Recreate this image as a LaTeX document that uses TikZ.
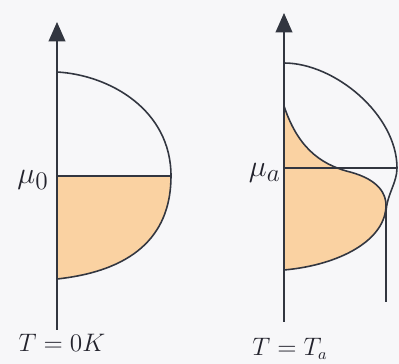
\documentclass[tikz,border=0pt]{standalone}
\usepackage{tikz}
\usetikzlibrary{arrows.meta}
\definecolor{bggray}{RGB}{247,247,249}
\definecolor{linegray}{RGB}{50,54,64}
\definecolor{fillorange}{RGB}{250,210,162}
\definecolor{textdark}{RGB}{35,35,45}
\tikzset{
  axisline/.style={
    -{Triangle[length=11pt,width=9.5pt]},
    draw=linegray, line width=0.85pt
  },
  curveline/.style={
    draw=linegray, line width=0.9pt
  },
  dosfill/.style={
    fill=fillorange
  },
  mulabel/.style={
    font=\fontsize{19}{21}\selectfont\color{textdark}, inner sep=0pt
  },
  templabel/.style={
    font=\fontsize{13.5}{15}\selectfont\color{textdark}, inner sep=0pt
  },
}
\begin{document}
\begin{tikzpicture}[x=0.02cm, y=-0.02cm]

  \useasboundingbox[fill=bggray] (0,0) rectangle (399,364);

  %% T = 0 K
  \coordinate (lbot) at (57,330);
  \coordinate (ltop) at (57,22);
  \coordinate (lupper) at (57,72);
  \coordinate (lmu) at (57,176);
  \coordinate (lmax) at (171,176);
  \coordinate (llower) at (57,279);

  \fill[dosfill] (lmu) -- (lmax) .. controls (171,230) and (140,270) .. (llower) -- cycle;
  \draw[curveline] (lupper) .. controls (110,75) and (171,110) .. (lmax)
    .. controls (171,230) and (140,270) .. (llower);
  \draw[curveline] (lmu) -- (lmax);
  \draw[axisline] (lbot) -- (ltop);

  \node[mulabel, anchor=east] (mu0) at (49,180) {$\mu_0$};
  \node[templabel, anchor=base] (t0) at (62,352) {$T = 0K$};

  %% T = T_a
  \coordinate (rbot) at (284,322);
  \coordinate (rtop) at (284,13);
  \coordinate (rupper) at (284,63);
  \coordinate (rmu) at (284,168);
  \coordinate (rmax) at (397,168);
  \coordinate (rend) at (386,302);
  \coordinate (fstart) at (284,106);
  \coordinate (fend) at (284,270);

  \fill[dosfill] (fstart) .. controls (297,145) and (318,164) .. (350,172)
    .. controls (380,180) and (386,195) .. (386,205)
    .. controls (386,240) and (340,265) .. (fend) -- cycle;
  \draw[curveline] (fstart) .. controls (297,145) and (318,164) .. (350,172)
    .. controls (380,180) and (386,195) .. (386,205)
    .. controls (386,240) and (340,265) .. (fend);
  \draw[curveline] (rupper) .. controls (335,63) and (397,115) .. (rmax)
    .. controls (397,183) and (387,194) .. (386,212) -- (rend);
  \draw[curveline] (rmu) -- (rmax);
  \draw[axisline] (rbot) -- (rtop);

  \node[mulabel, anchor=east] (mua) at (281,173) {$\mu_a$};
  \node[templabel, anchor=base] (ta) at (290,356) {$T = T_a$};

\end{tikzpicture}
\end{document}
